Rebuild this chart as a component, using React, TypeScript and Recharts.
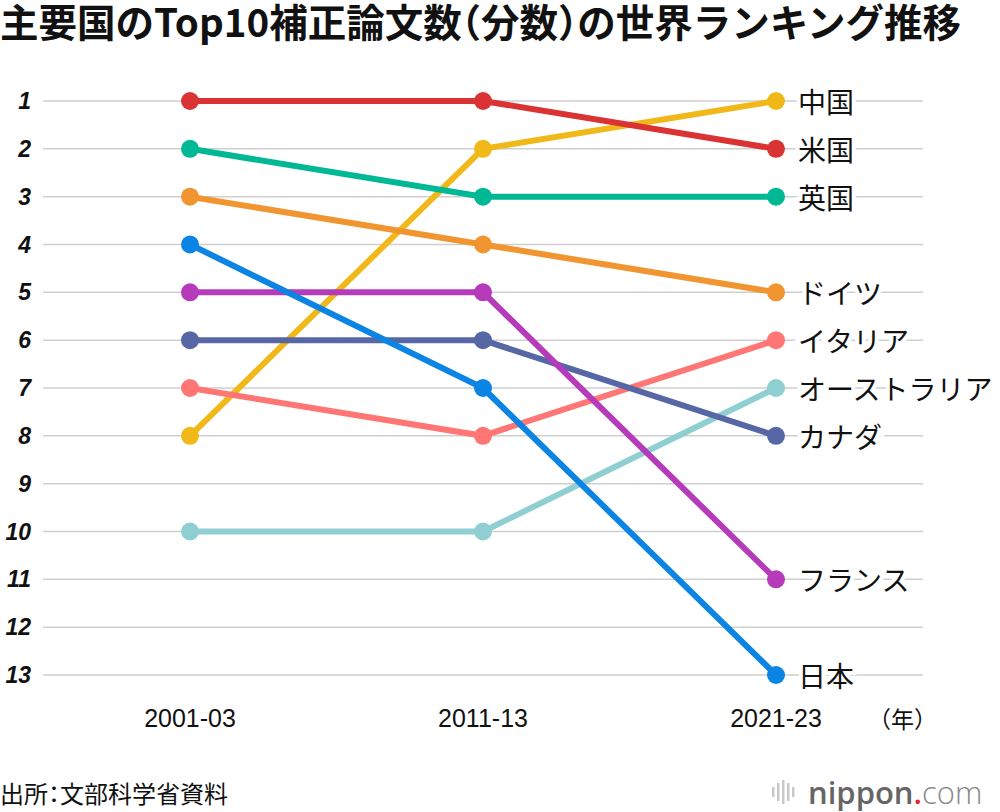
import { LineChart, Line, XAxis, YAxis, CartesianGrid, LabelList } from 'recharts';

const PERIODS = ['2001-03', '2011-13', '2021-23'];
const RANK_TICKS = [1, 2, 3, 4, 5, 6, 7, 8, 9, 10, 11, 12, 13];

const CHINA = [8, 2, 1];
const USA = [1, 1, 2];
const UK = [2, 3, 3];
const GERMANY = [3, 4, 5];
const ITALY = [7, 8, 6];
const AUSTRALIA = [10, 10, 7];
const CANADA = [6, 6, 8];
const FRANCE = [5, 5, 11];
const JAPAN = [4, 7, 13];

// drawing order: first is at the bottom
const SERIES = [
  { key: 'cn', name: '中国', values: CHINA, color: '#f1b819' },
  { key: 'us', name: '米国', values: USA, color: '#d93333' },
  { key: 'uk', name: '英国', values: UK, color: '#00b894' },
  { key: 'de', name: 'ドイツ', values: GERMANY, color: '#f0952f' },
  { key: 'it', name: 'イタリア', values: ITALY, color: '#ff7675' },
  { key: 'au', name: 'オーストラリア', values: AUSTRALIA, color: '#8fcfd1' },
  { key: 'ca', name: 'カナダ', values: CANADA, color: '#5767a6' },
  { key: 'fr', name: 'フランス', values: FRANCE, color: '#b53bba' },
  { key: 'jp', name: '日本', values: JAPAN, color: '#0b84e3' },
];

const data = PERIODS.map((period, i) => {
  const row: Record<string, string | number> = { period };
  SERIES.forEach((s) => {
    row[s.key] = s.values[i];
  });
  return row;
});

const FONT = '"Noto Sans CJK JP", "Noto Sans", sans-serif';
const LATIN = '"Liberation Sans", Arial, sans-serif';

const YTick = (props: any) => (
  <text
    x={31}
    y={props.y}
    textAnchor="end"
    dominantBaseline="central"
    fontFamily={LATIN}
    fontWeight="bold"
    fontStyle="italic"
    fontSize={23}
    fill="#111"
  >
    {props.payload.value}
  </text>
);

const XTick = (props: any) => (
  <text
    x={props.x}
    y={718}
    textAnchor="middle"
    dominantBaseline="central"
    fontFamily={LATIN}
    fontSize={25}
    fill="#111"
  >
    {props.payload.value}
  </text>
);

const endLabel = (name: string) => (props: any) => {
  if (props.index !== PERIODS.length - 1) return null;
  return (
    <text
      x={props.x + 22}
      y={props.y}
      dominantBaseline="central"
      fontFamily={FONT}
      fontSize={28}
      fill="#111"
      stroke="#fff"
      strokeWidth={8}
      paintOrder="stroke"
    >
      {name}
    </text>
  );
};

export default function App() {
  return (
    <div style={{ position: 'absolute', left: 0, top: 0, width: 1000, height: 812, background: '#fff', fontFamily: FONT, overflow: 'hidden' }}>
      <svg width={1000} height={48} style={{ position: 'absolute', left: 0, top: 0 }}>
        <text
          x={0}
          y={20}
          dominantBaseline="central"
          fontFamily={FONT}
          fontSize={38.5}
          fontWeight="bold"
          fill="#111"
          style={{ fontFeatureSettings: '"halt"' }}
        >
          主要国のTop10補正論文数（分数）の世界ランキング推移
        </text>
      </svg>
      <LineChart width={1000} height={812} data={data} margin={{ top: 101, right: 77, bottom: 87, left: 0 }}>
        <CartesianGrid vertical={false} stroke="#cfcfcf" strokeWidth={1.5} />
        <XAxis
          dataKey="period"
          axisLine={false}
          tickLine={false}
          height={50}
          padding={{ left: 147, right: 147 }}
          tick={<XTick />}
          interval={0}
        />
        <YAxis
          type="number"
          domain={[1, 13]}
          ticks={RANK_TICKS}
          reversed
          width={43}
          axisLine={false}
          tickLine={false}
          interval={0}
          tick={<YTick />}
        />
        {SERIES.map((s) => (
          <Line
            key={s.key}
            dataKey={s.key}
            stroke={s.color}
            strokeWidth={6}
            dot={{ r: 9, fill: s.color, stroke: 'none' }}
            activeDot={false}
            isAnimationActive={false}
          >
            <LabelList dataKey={s.key} content={endLabel(s.name)} />
          </Line>
        ))}
      </LineChart>
      <div style={{ position: 'absolute', left: 868, top: 702, fontSize: 23, lineHeight: '32px', color: '#111', whiteSpace: 'nowrap' }}>（年）</div>
      <div style={{ position: 'absolute', left: 0, top: 776, width: 'max-content', fontSize: 24, lineHeight: '34px', color: '#111', whiteSpace: 'nowrap', fontFeatureSettings: '"halt"' }}>
        出所：文部科学省資料
      </div>
      <div style={{ position: 'absolute', left: 770, top: 772, height: 40, display: 'flex', alignItems: 'center', whiteSpace: 'nowrap' }}>
        <svg width={28} height={28} style={{ marginRight: 10 }}>
          {[2, 7, 12, 17, 22].map((x, i) => (
            <rect key={x} x={x} y={[9, 5, 2, 5, 9][i]} width={2.5} height={28 - 2 * [9, 5, 2, 5, 9][i]} fill="#c8c8c8" />
          ))}
        </svg>
        <span style={{ fontFamily: '"Open Sans", sans-serif', fontSize: 31, fontWeight: 600, color: '#666', lineHeight: '40px' }}>nippon</span>
        <span style={{ fontFamily: '"Open Sans", sans-serif', fontSize: 31, fontWeight: 600, color: '#e8232f', lineHeight: '40px' }}>.</span>
        <span style={{ fontFamily: '"Open Sans", sans-serif', fontSize: 31, fontWeight: 300, color: '#888', lineHeight: '40px' }}>com</span>
      </div>
    </div>
  );
}
